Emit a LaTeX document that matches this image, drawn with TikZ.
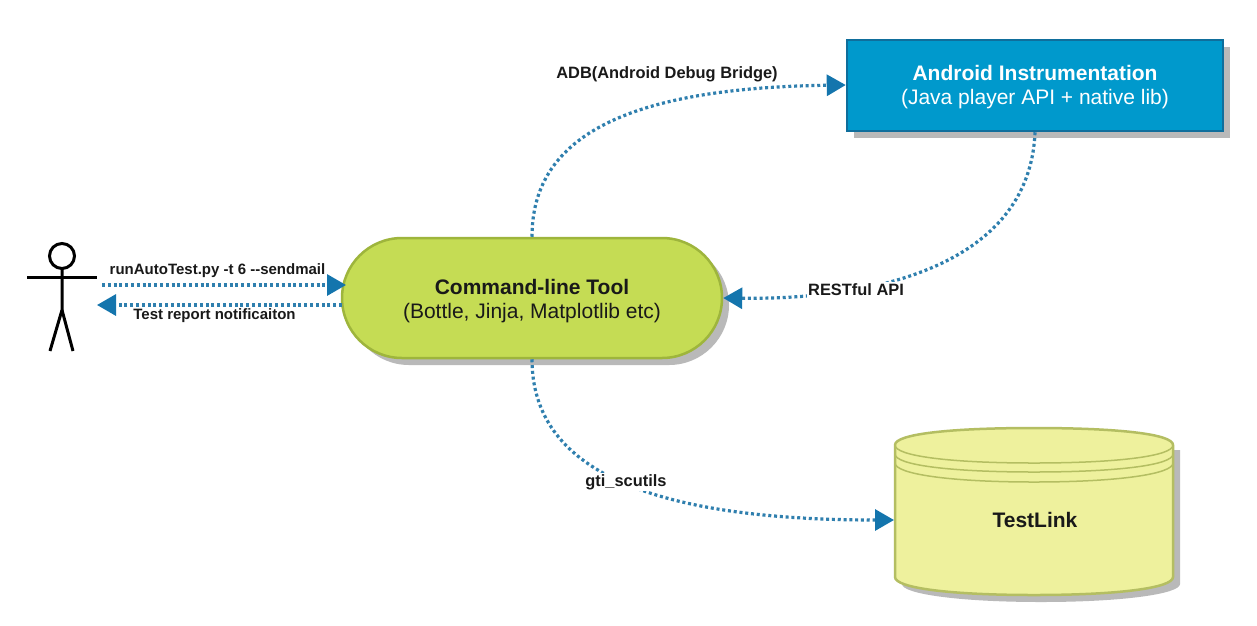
\documentclass[tikz,border=0pt]{standalone}
\usepackage{fontspec}
\setmainfont{Liberation Sans}
\usetikzlibrary{arrows.meta,shadows,shapes.misc}
\definecolor{linkblue}{HTML}{2F7FAE}
\definecolor{tipblue}{HTML}{1475AD}
\definecolor{boxblue}{HTML}{0099CC}
\definecolor{boxedge}{HTML}{0F6E9C}
\definecolor{toolgreen}{HTML}{C5DC54}
\definecolor{tooledge}{HTML}{9EB53C}
\definecolor{dbyellow}{HTML}{EEF19D}
\definecolor{dbedge}{HTML}{B4BE62}
\definecolor{shadowgray}{HTML}{B9B9B9}
\tikzset{
	link/.style={draw=linkblue,line width=3.2pt,dash pattern=on 3pt off 2.8pt,-{Triangle[length=19pt,width=21pt,color=tipblue,fill=tipblue]}},
	linklabel/.style={fill=white,inner sep=1.5pt,text=black!90,font=\fontsize{16.4}{19}\selectfont\bfseries},
	smalllabel/.style={text=black!90,inner sep=1.5pt,font=\fontsize{15}{18}\selectfont\bfseries},
	castshadow/.style={drop shadow={shadow xshift=7pt,shadow yshift=-7pt,fill=shadowgray,opacity=1}},
	title/.style={align=center,font=\fontsize{21}{24}\selectfont},
	stick/.style={line width=3pt,black}
}
\begin{document}
\begin{tikzpicture}[x=1pt,y=-1pt]
	\useasboundingbox[fill=white] (0,0) rectangle (1257,625);
	% shapes
	\node[castshadow,draw=boxedge,line width=2.5pt,fill=boxblue,minimum width=376pt,minimum height=91pt,inner sep=0pt,title,text=white] (android) at (1035,85.5) {\rule{0pt}{19pt}\textbf{Android Instrumentation}\\(Java player API + native lib)};
	\node[castshadow,rounded rectangle,draw=tooledge,line width=2.5pt,fill=toolgreen,minimum width=380pt,minimum height=120pt,inner sep=0pt,title,text=black!90] (tool) at (532,298) {\rule{0pt}{21pt}\textbf{Command-line Tool}\\(Bottle, Jinja, Matplotlib etc)};
	\fill[shadowgray] (902,450) -- (902,584) .. controls (902,594) and (960,602) .. (1041,602) .. controls (1122,602) and (1180,594) .. (1180,584) -- (1180,450) -- cycle;
	\draw[draw=dbedge,line width=2.5pt,fill=dbyellow] (895,445) -- (895,577) .. controls (895,588) and (950,595) .. (1034,595) .. controls (1118,595) and (1173,588) .. (1173,577) -- (1173,445) .. controls (1173,434) and (1118,428) .. (1034,428) .. controls (950,428) and (895,434) .. cycle;
	\draw[draw=dbedge,line width=1.5pt] (895,445) .. controls (895,456) and (950,463) .. (1034,463) .. controls (1118,463) and (1173,456) .. (1173,445);
	\draw[draw=dbedge,line width=1.5pt] (895,454) .. controls (895,465) and (950,472) .. (1034,472) .. controls (1118,472) and (1173,465) .. (1173,454);
	\draw[draw=dbedge,line width=1.5pt] (895,463) .. controls (895,474) and (950,482) .. (1034,482) .. controls (1118,482) and (1173,474) .. (1173,463);
	\node[title,text=black!90] (testlink) at (1035,520) {\textbf{TestLink}};
	\coordinate (testlinkin) at (894,520);
	% actor
	\draw[stick] (62,256) circle (12.5pt);
	\draw[stick] (27,277) -- (97,277);
	\draw[stick] (62,268) -- (62,310) -- (50,351);
	\draw[stick] (62,310) -- (73,351);
	\coordinate (actorout) at (102,285);
	\coordinate (actorin) at (97,305);
	\coordinate (toolin) at (346,285);
	\coordinate (toolout) at (342,305);
	% connectors
	\draw[link] (actorout) -- (toolin);
	\draw[link] (toolout) -- (actorin);
	\draw[link] (tool.north) .. controls (532,140) and (620,88) .. (android.west |- 0,85);
	\draw[link] (android.south) .. controls (1030,258) and (890,300) .. (tool.east);
	\draw[link] (tool.south) .. controls (532,470) and (650,520) .. (testlinkin);
	% labels
	\node[smalllabel] (runlabel) at (217.5,270.5) {runAutoTest.py -t 6 -{}-sendmail};
	\node[smalllabel] (reportlabel) at (214.5,315.5) {Test report notificaiton};
	\node[linklabel] (adblabel) at (667,74) {ADB(Android Debug Bridge)};
	\node[linklabel] (restlabel) at (856,290) {RESTful API};
	\node[linklabel] (gtilabel) at (626,482) {gti\_scutils};
\end{tikzpicture}
\end{document}
